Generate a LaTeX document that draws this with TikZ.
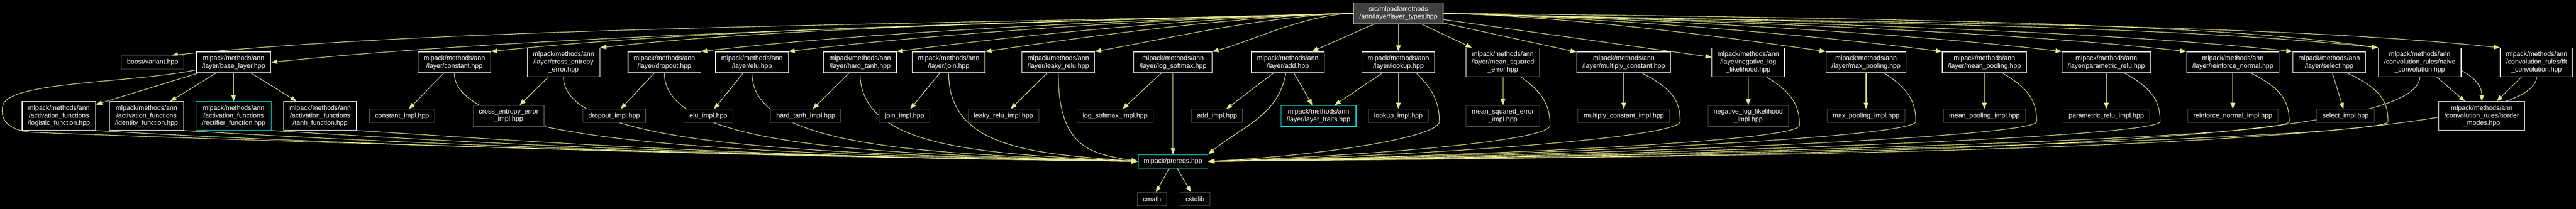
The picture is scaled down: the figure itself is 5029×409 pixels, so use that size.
\documentclass[tikz,border=0pt]{standalone}
\usepackage{fontspec}
\setmainfont{Liberation Sans}
\usetikzlibrary{arrows.meta,positioning,calc,backgrounds}

\definecolor{edgec}{RGB}{230,230,140}
\definecolor{undoc}{RGB}{72,72,72}
\definecolor{hilite}{RGB}{0,215,215}
\definecolor{rootfill}{RGB}{64,64,64}
\definecolor{rootline}{RGB}{191,191,191}

\tikzset{
  file/.style={rectangle, draw=white, line width=1.2pt, fill=black, text=white,
    font=\fontsize{13}{15}\selectfont, align=center, inner xsep=11pt, inner ysep=2pt},
  ext/.style={file, draw=undoc},
  cyanfile/.style={file, draw=hilite},
  ln1/.style={minimum height=26pt},
  ln2/.style={minimum height=41pt},
  ln3/.style={minimum height=56pt},
  dep/.style={color=edgec, draw=edgec, line width=1.1pt, -{Triangle[length=12pt,width=9pt]}}
}

\begin{document}
\begin{tikzpicture}[x=1pt,y=1pt,node distance=105pt,on grid]
  \useasboundingbox (0,0) rectangle (5029,409);

  \node[file,ln2,fill=rootfill,draw=rootline] (root) at (2730,383) {src/mlpack/methods\\/ann/layer/layer\_types.hpp};

  % headers pulled in by layer_types.hpp
  \node[ext,ln1]  (boost)    at (298,287)               {boost/variant.hpp};
  \node[file,ln2] (base)     [right=158pt of boost]     {mlpack/methods/ann\\/layer/base\_layer.hpp};
  \node[file,ln2] (constant) [right=431pt of base]      {mlpack/methods/ann\\/layer/constant.hpp};
  \node[file,ln3] (cross)    [right=213pt of constant]  {mlpack/methods/ann\\/layer/cross\_entropy\\\_error.hpp};
  \node[file,ln2] (dropout)  [right=197pt of cross]     {mlpack/methods/ann\\/layer/dropout.hpp};
  \node[file,ln2] (elu)      [right=171pt of dropout]   {mlpack/methods/ann\\/layer/elu.hpp};
  \node[file,ln2] (hardtanh) [right=211pt of elu]       {mlpack/methods/ann\\/layer/hard\_tanh.hpp};
  \node[file,ln2] (join)     [right=173pt of hardtanh]  {mlpack/methods/ann\\/layer/join.hpp};
  \node[file,ln2] (leaky)    [right=214pt of join]      {mlpack/methods/ann\\/layer/leaky\_relu.hpp};
  \node[file,ln2] (logsoft)  [right=224pt of leaky]     {mlpack/methods/ann\\/layer/log\_softmax.hpp};
  \node[file,ln2] (add)      [right=224pt of logsoft]   {mlpack/methods/ann\\/layer/add.hpp};
  \node[file,ln2] (lookup)   [right=216pt of add]       {mlpack/methods/ann\\/layer/lookup.hpp};
  \node[file,ln3] (mse)      [right=204pt of lookup]    {mlpack/methods/ann\\/layer/mean\_squared\\\_error.hpp};
  \node[file,ln2] (mulc)     [right=236pt of mse]       {mlpack/methods/ann\\/layer/multiply\_constant.hpp};
  \node[file,ln3] (nll)      [right=243pt of mulc]      {mlpack/methods/ann\\/layer/negative\_log\\\_likelihood.hpp};
  \node[file,ln2] (maxp)     [right=230pt of nll]       {mlpack/methods/ann\\/layer/max\_pooling.hpp};
  \node[file,ln2] (meanp)    [right=231pt of maxp]      {mlpack/methods/ann\\/layer/mean\_pooling.hpp};
  \node[file,ln2] (prelu)    [right=238pt of meanp]     {mlpack/methods/ann\\/layer/parametric\_relu.hpp};
  \node[file,ln2] (reinf)    [right=247pt of prelu]     {mlpack/methods/ann\\/layer/reinforce\_normal.hpp};
  \node[file,ln2] (select)   [right=188pt of reinf]     {mlpack/methods/ann\\/layer/select.hpp};
  \node[file,ln3] (naive)    [right=177pt of select]    {mlpack/methods/ann\\/convolution\_rules/naive\\\_convolution.hpp};
  \node[file,ln3] (fft)      [right=228pt of naive]     {mlpack/methods/ann\\/convolution\_rules/fft\\\_convolution.hpp};

  % second row
  \node[file,ln3]     (logistic)  [below=of base,xshift=-341pt] {mlpack/methods/ann\\/activation\_functions\\/logistic\_function.hpp};
  \node[file,ln3]     (identity)  [below=of base,xshift=-170pt] {mlpack/methods/ann\\/activation\_functions\\/identity\_function.hpp};
  \node[cyanfile,ln3] (rectifier) [below=of base]               {mlpack/methods/ann\\/activation\_functions\\/rectifier\_function.hpp};
  \node[file,ln3]     (tanh)      [below=of base,xshift=169pt]  {mlpack/methods/ann\\/activation\_functions\\/tanh\_function.hpp};
  \node[ext,ln1] (constant-impl) [below=of constant,xshift=-102pt] {constant\_impl.hpp};
  \node[ext,ln2] (cross-impl)    [below=of cross,xshift=-107pt]    {cross\_entropy\_error\\\_impl.hpp};
  \node[ext,ln1] (dropout-impl)  [below=of dropout,xshift=-98pt]   {dropout\_impl.hpp};
  \node[ext,ln1] (elu-impl)      [below=of elu,xshift=-85pt]       {elu\_impl.hpp};
  \node[ext,ln1] (hardtanh-impl) [below=of hardtanh,xshift=-106pt] {hard\_tanh\_impl.hpp};
  \node[ext,ln1] (join-impl)     [below=of join,xshift=-86pt]      {join\_impl.hpp};
  \node[ext,ln1] (leaky-impl)    [below=of leaky,xshift=-107pt]    {leaky\_relu\_impl.hpp};
  \node[ext,ln1] (logsoft-impl)  [below=of logsoft,xshift=-113pt]  {log\_softmax\_impl.hpp};
  \node[ext,ln1] (add-impl)      [below=of add,xshift=-138pt]      {add\_impl.hpp};
  \node[cyanfile,ln2] (traits)   [below=of add,xshift=60pt]        {mlpack/methods/ann\\/layer/layer\_traits.hpp};
  \node[ext,ln1] (lookup-impl)   [below=of lookup]                 {lookup\_impl.hpp};
  \node[ext,ln2] (mse-impl)      [below=of mse]                    {mean\_squared\_error\\\_impl.hpp};
  \node[ext,ln1] (mulc-impl)     [below=of mulc]                   {multiply\_constant\_impl.hpp};
  \node[ext,ln2] (nll-impl)      [below=of nll]                    {negative\_log\_likelihood\\\_impl.hpp};
  \node[ext,ln1] (maxp-impl)     [below=of maxp]                   {max\_pooling\_impl.hpp};
  \node[ext,ln1] (meanp-impl)    [below=of meanp]                  {mean\_pooling\_impl.hpp};
  \node[ext,ln1] (prelu-impl)    [below=of prelu]                  {parametric\_relu\_impl.hpp};
  \node[ext,ln1] (reinf-impl)    [below=of reinf]                  {reinforce\_normal\_impl.hpp};
  \node[ext,ln1] (select-impl)   [below=of select,xshift=32pt]     {select\_impl.hpp};
  \node[file,ln3] (border)       [below=of naive,xshift=121pt]     {mlpack/methods/ann\\/convolution\_rules/border\\\_modes.hpp};

  \node[cyanfile,ln1] (prereqs) [below=194pt of logsoft]                 {mlpack/prereqs.hpp};
  \node[ext,ln1]      (cmath)   [below left=74pt and 41pt of prereqs]    {cmath};
  \node[ext,ln1]      (cstdlib) [below right=74pt and 43pt of prereqs]   {cstdlib};

  \begin{scope}[on background layer]
  \fill[black] (0,0) rectangle (5029,409);

  % layer_types.hpp to everything it includes
  \foreach \nm/\anc/\dist in {boost/20/2284, base/east/2113, constant/north east/1685,
      cross/north east/1471, dropout/north east/1274, elu/north east/1103, hardtanh/north east/893,
      join/north east/720, leaky/north east/506, logsoft/north east/276}
    \draw[dep] (root.west) .. controls +(-0.35*\dist,-0.01*\dist)
               and ($(\nm.\anc)+(0.25*\dist,0.02*\dist+12)$) .. (\nm.\anc);
  \foreach \nm/\dist in {maxp/748, meanp/975, prelu/1209, reinf/1453, select/1658, naive/1826, fft/2064}
    \draw[dep] (root.east) .. controls +(0.35*\dist,-0.01*\dist)
               and ($(\nm.north west)+(-0.25*\dist,0.02*\dist+12)$) .. (\nm.north west);
  \path[dep] (root) edge (add)
             (root) edge (lookup)
             (root) edge (mse)
             (root) edge (mulc)
             (root) edge (nll);
  \draw[dep] (root.east) .. controls +(1380,-15) and ($(border.north)+(0,140)$) .. (border.north);

  % header to its impl file
  \foreach \nm in {constant,cross,dropout,elu,hardtanh,join,leaky,logsoft,add,lookup,
      mse,mulc,nll,maxp,meanp,prelu,reinf,select}
    \path[dep] (\nm) edge (\nm-impl);
  \path[dep] (base) edge (logistic)
             (base) edge (identity)
             (base) edge (rectifier)
             (base) edge (tanh)
             (add) edge (traits)
             (lookup) edge (traits)
             (naive) edge (border)
             (fft) edge (border)
             (logsoft) edge (prereqs)
             (prereqs) edge (cmath)
             (prereqs) edge (cstdlib);

  % everything down to prereqs.hpp
  \draw[dep] (base) .. controls (250,245) and (10,250) .. (5,200)
                    .. controls (0,170) and (20,155) .. (60,150)
                    .. controls (700,125) and (1700,100) .. (prereqs.west);
  \foreach \nm in {logistic,identity,rectifier,tanh}
    \draw[dep] (\nm.south east) .. controls +(400,-25)
               and ($(prereqs.west)+(-800,10)$) .. (prereqs.west);
  \foreach \nm/\l in {constant/700, cross/600, dropout/500, elu/400, hardtanh/300, join/200, leaky/90}
    \draw[dep] (\nm) .. controls +(0,-170) and ($(prereqs.west)+(-\l,15)$) .. (prereqs.west);
  \draw[dep] (add) to[out=-100,in=40] (prereqs.north east);
  \foreach \nm/\l/\b in {lookup/230/80, mse/330/92, mulc/460/110, nll/580/100, maxp/700/97,
      meanp/810/102, prelu/930/105, reinf/1050/110, select/1150/115}
    \draw[dep] ([xshift=35pt]\nm.south) .. controls ([shift={(\b-15,-30)}]\nm.south)
               and ([shift={(\b,-55)}]\nm.south) .. ([shift={(\b,-95)}]\nm.south)
               .. controls ([shift={(\b,-125)}]\nm.south) and ($(prereqs.east)+(\l,12)$) .. (prereqs.east);
  \foreach \nm/\l in {naive/1200, fft/1300}
    \draw[dep] (\nm) .. controls +(0,-170) and ($(prereqs.east)+(\l,12)$) .. (prereqs.east);
  \end{scope}
\end{tikzpicture}
\end{document}
